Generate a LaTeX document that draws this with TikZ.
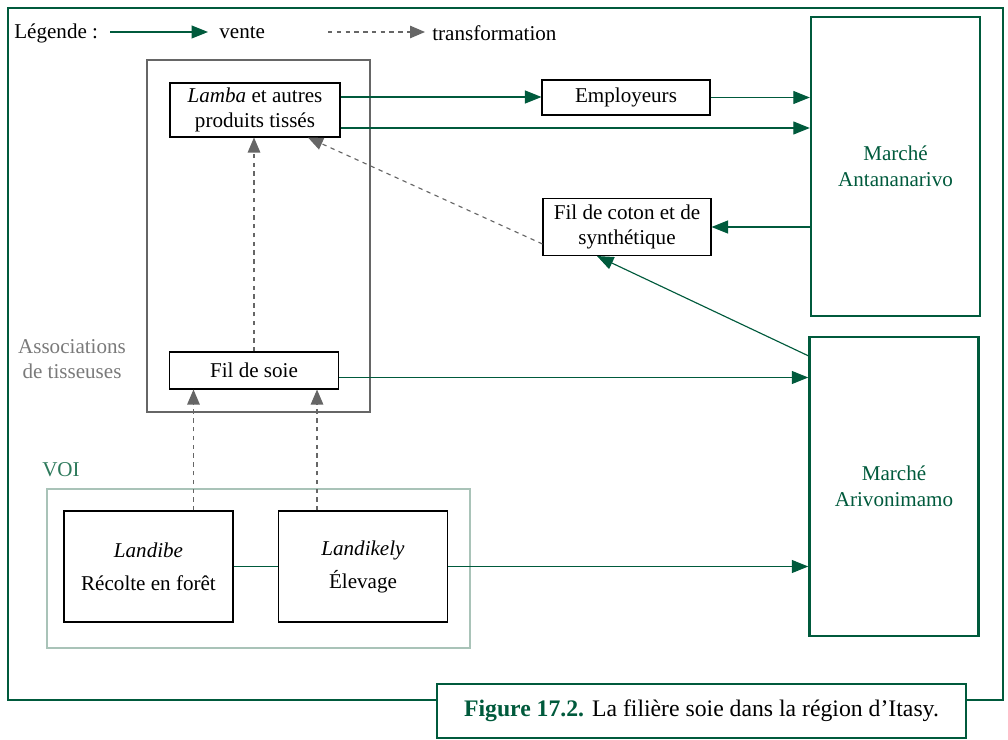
\documentclass[tikz,border=0pt]{standalone}
\usepackage{fontspec}
\setmainfont{Liberation Serif}
\usetikzlibrary{arrows.meta}
\definecolor{vert}{HTML}{005A3C}
\definecolor{gris}{HTML}{666666}
\definecolor{grist}{HTML}{7A7A7A}
\definecolor{voi}{HTML}{A9C3B8}
\definecolor{voitxt}{HTML}{2E7A5C}
\newcommand{\txt}{\fontsize{12}{14.5}\selectfont}

\tikzstyle{nB}=[draw,line width=0.6pt,fill=white,inner sep=0pt,align=center,font=\txt]
\tikzstyle{nM}=[draw=vert,line width=1.4pt,minimum width=3.38cm,minimum height=5.98cm,inner sep=0pt,align=center,text=vert,font=\txt]
\tikzstyle{nT}=[inner sep=0pt,align=center,font=\txt]
\tikzstyle{eV}=[draw=vert,line width=0.65pt,-{Triangle[length=0.33cm,width=0.26cm]}]
\tikzstyle{eT}=[draw=gris,line width=0.65pt,dash pattern=on 2.5pt off 2.5pt,-{Triangle[length=0.3cm,width=0.25cm]}]
\tikzstyle{eL}=[draw=vert,line width=0.65pt]

\begin{document}
\begin{tikzpicture}[x=0.02cm,y=-0.02cm]
                \useasboundingbox (0,0) rectangle (1008,740);
                \draw[vert,line width=1.4pt] (8,8) rectangle (1003,700);
                \draw[gris,line width=1.6pt] (147,60) rectangle (370,412);
                \draw[voi,line width=1.6pt] (47,489) rectangle (470,648);
                % legende
                \draw (14,33) node[nT,anchor=west] (leg) {Légende :};
                \coordinate (v0) at (110,32);
                \coordinate (v1) at (208,32);
                \draw (219,33) node[nT,anchor=west] (vente) {vente};
                \coordinate (d0) at (328,32);
                \coordinate (d1) at (425,32);
                \draw (432,33) node[nT,anchor=west] (transf) {transformation};
                % noeuds
                \draw (255,110) node[nB,minimum width=3.4cm,minimum height=1.08cm] (lam) {\textit{Lamba} et autres\\produits tissés};
                \draw (626,97.5) node[nB,minimum width=3.36cm,minimum height=0.7cm] (emp) {Employeurs};
                \draw (627,227) node[nB,minimum width=3.36cm,minimum height=1.14cm] (cot) {Fil de coton et de\\synthétique};
                \draw (254,370.5) node[nB,minimum width=3.38cm,minimum height=0.74cm] (soie) {Fil de soie};
                \draw (148.5,566.5) node[nB,minimum width=3.38cm,minimum height=2.22cm] (lb) {\textit{Landibe}\\[4.3pt]Récolte en forêt};
                \draw (363,566.5) node[nB,minimum width=3.38cm,minimum height=2.22cm] (lk) {\textit{Landikely}\\[4.3pt]Élevage};
                \draw (895.5,166.5) node[nM] (ant) {Marché\\Antananarivo};
                \draw (894,486.5) node[nM] (ari) {Marché\\Arivonimamo};
                \draw (72,359) node[nT,text=grist] (assoc) {Associations\\de tisseuses};
                \draw (61,470) node[nT,text=voitxt] (voi) {VOI};
                \draw (701.5,711) node[draw=vert,line width=1.4pt,fill=white,minimum width=10.58cm,minimum height=1.08cm,font=\fontsize{13.5}{16}\selectfont] (cap) {\textcolor{vert}{\textbf{Figure 17.2.}} La filière soie dans la région d'Itasy.};
                \coordinate (l1) at ([yshift=0.26cm]lam.east);
                \coordinate (l2) at ([yshift=-0.36cm]lam.east);
                \coordinate (s1) at ([yshift=-0.14cm]soie.east);
                \coordinate (a1) at ([yshift=-0.4cm]ari.north west);
                \coordinate (c1) at ([yshift=-0.34cm]cot.west);
                \coordinate (c2) at ([xshift=-0.6cm]cot.south);
                \coordinate (t1) at ([xshift=1.06cm]lam.south);
                \coordinate (b1) at ([xshift=0.9cm]lb.north);
                \coordinate (k1) at ([xshift=-0.92cm]lk.north);
                \path
                    (v0) edge[eV] (v1)
                    (d0) edge[eT] (d1)
                    (l1) edge[eV] (l1 -| emp.west)
                    (l2) edge[eV] (l2 -| ant.west)
                    (emp.east) edge[eV] (emp.east -| ant.west)
                    (cot.east -| ant.west) edge[eV] (cot.east)
                    (a1) edge[eV] (c2)
                    (s1) edge[eV] (s1 -| ari.west)
                    (lk.east) edge[eV] (lk.east -| ari.west)
                    (lb.east) edge[eL] (lk.west)
                    (c1) edge[eT] (t1)
                    (soie.north) edge[eT] (soie.north |- lam.south)
                    (b1) edge[eT] (b1 |- soie.south)
                    (k1) edge[eT] (k1 |- soie.south)
                ;
\end{tikzpicture}
\end{document}
